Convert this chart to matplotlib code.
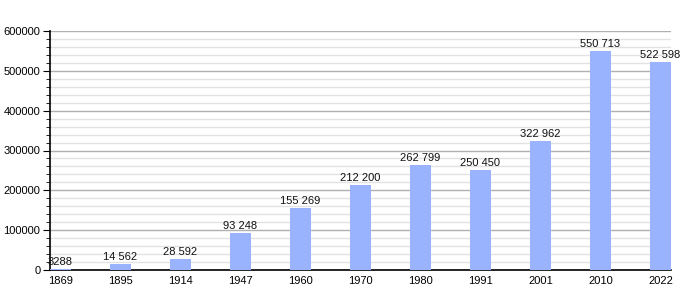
import numpy as np
import matplotlib
matplotlib.use("Agg")
import matplotlib.pyplot as plt
from matplotlib.ticker import MultipleLocator

plt.rcParams['font.family'] = ['Liberation Sans', 'DejaVu Sans']

years = ['1869', '1895', '1914', '1947', '1960', '1970', '1980', '1991', '2001', '2010', '2022']
population = [3288, 14562, 28592, 93248, 155269, 212200, 262799, 250450, 322962, 550713, 522598]
labels = ['3288', '14 562', '28 592', '93 248', '155 269', '212 200', '262 799',
          '250 450', '322 962', '550 713', '522 598']

fig = plt.figure(figsize=(7, 3), dpi=100)
ax = fig.add_axes([50 / 700, 30 / 300, 621 / 700, 239 / 300])

x = np.arange(len(years))
ax.bar(x, population, width=0.35, color='#99b3ff', zorder=3)
for xi, v, t in zip(x, population, labels):
    ax.text(xi, v + 5000, t, ha='center', va='bottom', fontsize=8, color='#111111', zorder=4)

ax.set_xlim(-0.175, 10.175)
ax.set_ylim(0, 600000)
ax.set_xticks(x)
ax.set_xticklabels(years)
ax.yaxis.set_major_locator(MultipleLocator(100000))
ax.yaxis.set_minor_locator(MultipleLocator(20000))
ax.grid(axis='y', which='major', color='#b0b0b0', linewidth=1, zorder=0)
ax.grid(axis='y', which='minor', color='#e2e2e2', linewidth=1, zorder=0)

for s in ['top', 'right']:
    ax.spines[s].set_visible(False)
ax.spines['left'].set_linewidth(1.2)
ax.spines['bottom'].set_linewidth(1.2)
ax.tick_params(axis='x', length=0, labelsize=8, pad=4)
ax.tick_params(axis='y', which='major', length=5, labelsize=8, pad=2)
ax.tick_params(axis='y', which='minor', length=3)

fig.savefig('out.png', dpi=100)
